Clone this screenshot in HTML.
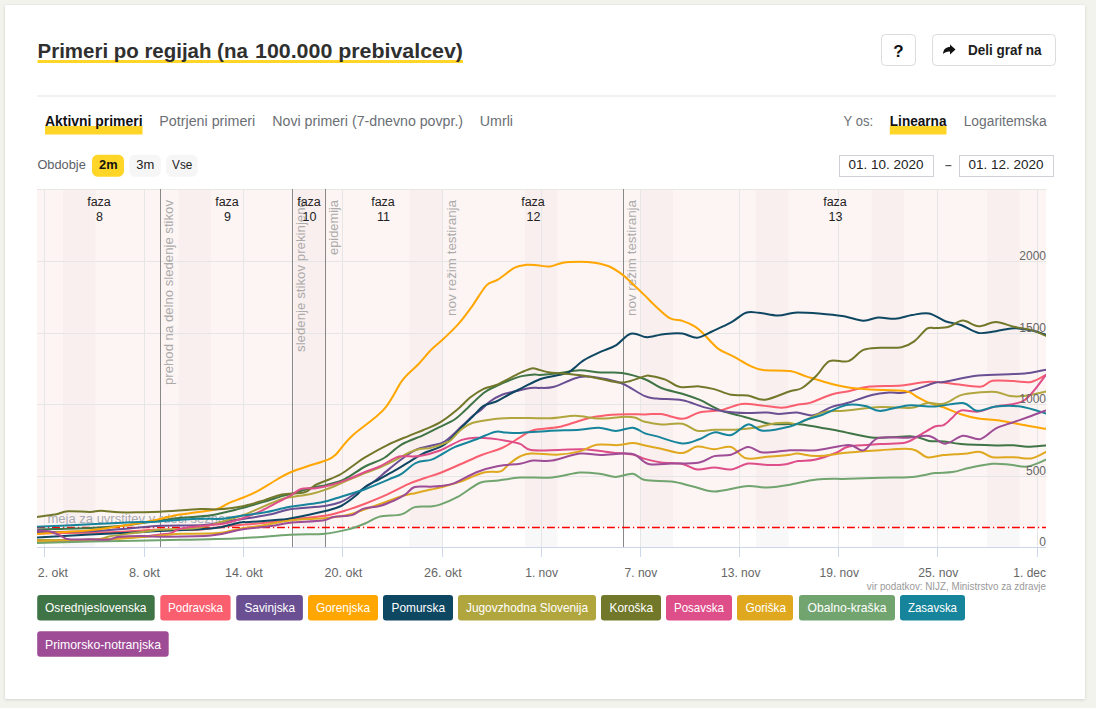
<!DOCTYPE html>
<html><head><meta charset="utf-8"><title>Primeri po regijah</title>
<style>
html,body{margin:0;padding:0;width:1096px;height:708px;overflow:hidden;background:#f3f3ee;font-family:"Liberation Sans", sans-serif;}
.card{position:absolute;left:5px;top:5px;width:1080px;height:694px;background:#fff;box-shadow:0 1px 3px rgba(0,0,0,0.12),0 0 1px rgba(0,0,0,0.08);}
svg{position:absolute;left:0;top:0;}
text{font-family:"Liberation Sans", sans-serif;}
</style></head><body>
<div class="card"></div>
<svg width="1096" height="708" viewBox="0 0 1096 708">
<rect x="37.5" y="60" width="425.5" height="3" fill="#ffd527"/>
<text x="37.6" y="57.5" font-size="20" font-weight="bold" fill="#2f2f2f" textLength="210.2" lengthAdjust="spacingAndGlyphs">Primeri po regijah (na</text>
<text x="255" y="57.5" font-size="20" font-weight="bold" fill="#2f2f2f" textLength="208" lengthAdjust="spacingAndGlyphs">100.000 prebivalcev)</text>
<rect x="881.5" y="34.5" width="34" height="31" rx="4" fill="#fff" stroke="#dcdcdc" stroke-width="1"/>
<text x="898.5" y="57" font-size="17" font-weight="bold" fill="#111" text-anchor="middle">?</text>
<rect x="932.5" y="34.5" width="123" height="31" rx="4" fill="#fff" stroke="#dcdcdc" stroke-width="1"/>
<path d="M943,54 C943.5,49 946,47 950,47 L950,44.5 L955.5,49.5 L950,54.5 L950,51.5 C947,51.3 944.8,52.2 943,54 Z" fill="#111"/>
<text x="968" y="55" font-size="14.5" font-weight="bold" fill="#1d1d1d" textLength="73.5" lengthAdjust="spacingAndGlyphs">Deli graf na</text>
<rect x="37" y="95.5" width="1019" height="1" fill="#e1e4e8"/>
<rect x="45" y="126" width="97.5" height="8.5" fill="#ffd527"/>
<text x="45" y="126" font-size="14" font-weight="bold" fill="#111" textLength="97.5" lengthAdjust="spacingAndGlyphs">Aktivni primeri</text>
<text x="159.3" y="126" font-size="14" fill="#6b6f75" textLength="96" lengthAdjust="spacingAndGlyphs">Potrjeni primeri</text>
<text x="272.3" y="126" font-size="14" fill="#6b6f75" textLength="190.8" lengthAdjust="spacingAndGlyphs">Novi primeri (7-dnevno povpr.)</text>
<text x="479.7" y="126" font-size="14" fill="#6b6f75" textLength="33.3" lengthAdjust="spacingAndGlyphs">Umrli</text>
<text x="843.6" y="126" font-size="14" fill="#6b6f75" textLength="29.4" lengthAdjust="spacingAndGlyphs">Y os:</text>
<rect x="889.8" y="126" width="56.7" height="8.5" fill="#ffd527"/>
<text x="889.8" y="126" font-size="14" font-weight="bold" fill="#111" textLength="56.7" lengthAdjust="spacingAndGlyphs">Linearna</text>
<text x="963.7" y="126" font-size="14" fill="#6b6f75" textLength="82.9" lengthAdjust="spacingAndGlyphs">Logaritemska</text>
<text x="37.4" y="169.3" font-size="13" fill="#5c6066" textLength="48.4" lengthAdjust="spacingAndGlyphs">Obdobje</text>
<rect x="92" y="154.8" width="32" height="21.9" rx="5.5" fill="#ffd527"/>
<text x="99.1" y="168.8" font-size="12.5" font-weight="bold" fill="#111" textLength="18.5" lengthAdjust="spacingAndGlyphs">2m</text>
<rect x="129.3" y="154.8" width="31.5" height="21.9" rx="5.5" fill="#f6f6f6"/>
<text x="136.2" y="168.8" font-size="12.5" fill="#222" textLength="18" lengthAdjust="spacingAndGlyphs">3m</text>
<rect x="166.1" y="154.8" width="31.5" height="21.9" rx="5.5" fill="#f6f6f6"/>
<text x="172.1" y="168.8" font-size="12.5" fill="#222" textLength="20.2" lengthAdjust="spacingAndGlyphs">Vse</text>
<rect x="839.5" y="155.5" width="94" height="21" fill="#fff" stroke="#cfd2d6" stroke-width="1"/>
<text x="848.5" y="169" font-size="12.5" fill="#222" textLength="74.9" lengthAdjust="spacingAndGlyphs">01. 10. 2020</text>
<rect x="959.5" y="155.5" width="94" height="21" fill="#fff" stroke="#cfd2d6" stroke-width="1"/>
<text x="968.5" y="169" font-size="12.5" fill="#222" textLength="74.9" lengthAdjust="spacingAndGlyphs">01. 12. 2020</text>
<rect x="945.4" y="165" width="6" height="1.2" fill="#555"/>
<rect x="37" y="189" width="1009" height="338" fill="#fdf5f4"/>
<rect x="62.9" y="189" width="32.4" height="338.0" fill="#f9efee"/>
<rect x="62.9" y="527" width="32.4" height="20.0" fill="#f8f8f8"/>
<rect x="178.4" y="189" width="32.4" height="338.0" fill="#f9efee"/>
<rect x="178.4" y="527" width="32.4" height="20.0" fill="#f8f8f8"/>
<rect x="294.0" y="189" width="32.4" height="338.0" fill="#f9efee"/>
<rect x="294.0" y="527" width="32.4" height="20.0" fill="#f8f8f8"/>
<rect x="409.5" y="189" width="32.4" height="338.0" fill="#f9efee"/>
<rect x="409.5" y="527" width="32.4" height="20.0" fill="#f8f8f8"/>
<rect x="525.1" y="189" width="32.4" height="338.0" fill="#f9efee"/>
<rect x="525.1" y="527" width="32.4" height="20.0" fill="#f8f8f8"/>
<rect x="640.6" y="189" width="32.4" height="338.0" fill="#f9efee"/>
<rect x="640.6" y="527" width="32.4" height="20.0" fill="#f8f8f8"/>
<rect x="756.1" y="189" width="32.4" height="338.0" fill="#f9efee"/>
<rect x="756.1" y="527" width="32.4" height="20.0" fill="#f8f8f8"/>
<rect x="871.7" y="189" width="32.4" height="338.0" fill="#f9efee"/>
<rect x="871.7" y="527" width="32.4" height="20.0" fill="#f8f8f8"/>
<rect x="987.2" y="189" width="32.4" height="338.0" fill="#f9efee"/>
<rect x="987.2" y="527" width="32.4" height="20.0" fill="#f8f8f8"/>
<rect x="37" y="189" width="1009" height="1" fill="#e6e6e6"/>
<rect x="37" y="261" width="1009" height="1" fill="#e6e6e6"/>
<rect x="37" y="333" width="1009" height="1" fill="#e6e6e6"/>
<rect x="37" y="404" width="1009" height="1" fill="#e6e6e6"/>
<rect x="37" y="476" width="1009" height="1" fill="#e6e6e6"/>
<rect x="44" y="189" width="1" height="358" fill="#e6e6e6"/>
<rect x="44" y="547" width="1" height="10" fill="#ccd6eb"/>
<rect x="144" y="189" width="1" height="358" fill="#e6e6e6"/>
<rect x="144" y="547" width="1" height="10" fill="#ccd6eb"/>
<rect x="243" y="189" width="1" height="358" fill="#e6e6e6"/>
<rect x="243" y="547" width="1" height="10" fill="#ccd6eb"/>
<rect x="342" y="189" width="1" height="358" fill="#e6e6e6"/>
<rect x="342" y="547" width="1" height="10" fill="#ccd6eb"/>
<rect x="442" y="189" width="1" height="358" fill="#e6e6e6"/>
<rect x="442" y="547" width="1" height="10" fill="#ccd6eb"/>
<rect x="541" y="189" width="1" height="358" fill="#e6e6e6"/>
<rect x="541" y="547" width="1" height="10" fill="#ccd6eb"/>
<rect x="640" y="189" width="1" height="358" fill="#e6e6e6"/>
<rect x="640" y="547" width="1" height="10" fill="#ccd6eb"/>
<rect x="739" y="189" width="1" height="358" fill="#e6e6e6"/>
<rect x="739" y="547" width="1" height="10" fill="#ccd6eb"/>
<rect x="838" y="189" width="1" height="358" fill="#e6e6e6"/>
<rect x="838" y="547" width="1" height="10" fill="#ccd6eb"/>
<rect x="937" y="189" width="1" height="358" fill="#e6e6e6"/>
<rect x="937" y="547" width="1" height="10" fill="#ccd6eb"/>
<rect x="1037" y="189" width="1" height="358" fill="#e6e6e6"/>
<rect x="1037" y="547" width="1" height="10" fill="#ccd6eb"/>
<rect x="37" y="547" width="1009" height="1" fill="#ccd6eb"/>
<rect x="160" y="189" width="1" height="358" fill="#888"/>
<rect x="292" y="189" width="1" height="358" fill="#888"/>
<rect x="325" y="189" width="1" height="358" fill="#888"/>
<rect x="623" y="189" width="1" height="358" fill="#888"/>
<text x="47.5" y="523" font-size="13" fill="#a8abb3">meja za uvrstitev v rdeči seznam</text>
<text transform="translate(173.2,200) rotate(-90)" font-size="12" fill="#ababab" text-anchor="end" textLength="185" lengthAdjust="spacingAndGlyphs">prehod na delno sledenje stikov</text>
<text transform="translate(305,200) rotate(-90)" font-size="12" fill="#ababab" text-anchor="end" textLength="152" lengthAdjust="spacingAndGlyphs">sledenje stikov prekinjeno</text>
<text transform="translate(338,200) rotate(-90)" font-size="12" fill="#ababab" text-anchor="end" textLength="55" lengthAdjust="spacingAndGlyphs">epidemija</text>
<text transform="translate(456,200) rotate(-90)" font-size="12" fill="#ababab" text-anchor="end" textLength="116" lengthAdjust="spacingAndGlyphs">nov režim testiranja</text>
<text transform="translate(636,200) rotate(-90)" font-size="12" fill="#ababab" text-anchor="end" textLength="116" lengthAdjust="spacingAndGlyphs">nov režim testiranja</text>
<text x="99" y="206" font-size="12.5" fill="#222" text-anchor="middle">faza</text>
<text x="99.5" y="220.8" font-size="12.5" fill="#222" text-anchor="middle">8</text>
<text x="227" y="206" font-size="12.5" fill="#222" text-anchor="middle">faza</text>
<text x="227.5" y="220.8" font-size="12.5" fill="#222" text-anchor="middle">9</text>
<text x="309" y="206" font-size="12.5" fill="#222" text-anchor="middle">faza</text>
<text x="309.5" y="220.8" font-size="12.5" fill="#222" text-anchor="middle">10</text>
<text x="383" y="206" font-size="12.5" fill="#222" text-anchor="middle">faza</text>
<text x="383.5" y="220.8" font-size="12.5" fill="#222" text-anchor="middle">11</text>
<text x="533" y="206" font-size="12.5" fill="#222" text-anchor="middle">faza</text>
<text x="533.5" y="220.8" font-size="12.5" fill="#222" text-anchor="middle">12</text>
<text x="835" y="206" font-size="12.5" fill="#222" text-anchor="middle">faza</text>
<text x="835.5" y="220.8" font-size="12.5" fill="#222" text-anchor="middle">13</text>
<line x1="37" y1="527.5" x2="1046" y2="527.5" stroke="#ff0000" stroke-width="1.4" stroke-dasharray="7.9,3,1.3,2.8"/>
<defs><clipPath id="pc"><rect x="37" y="189" width="1009" height="358"/></clipPath></defs>
<g fill="none" stroke-width="2" stroke-linejoin="round" stroke-linecap="round" clip-path="url(#pc)">
<path d="M37.0,529.5 C45.8,529.2 76.2,528.6 90.0,528.0 C103.8,527.4 108.3,527.2 120.0,526.0 C131.7,524.8 149.7,521.9 160.0,520.5 C170.3,519.1 173.4,518.6 181.9,517.7 C190.4,516.8 201.4,516.7 211.1,515.2 C220.8,513.7 231.2,510.8 240.0,508.6 C248.8,506.4 256.8,504.0 263.8,501.9 C270.8,499.8 277.6,497.4 282.0,496.1 C286.4,494.9 285.0,495.8 290.0,494.4 C295.0,493.0 305.8,489.4 311.9,487.8 C318.0,486.2 321.0,486.3 326.5,484.9 C332.0,483.4 338.3,482.2 344.7,479.1 C351.1,476.0 358.6,469.9 365.0,466.5 C371.4,463.1 377.1,462.1 383.2,458.5 C389.3,454.9 394.8,448.5 401.5,444.6 C408.2,440.7 417.0,438.1 423.4,435.1 C429.8,432.1 434.8,429.4 440.0,426.8 C445.2,424.2 450.4,422.3 454.6,419.5 C458.9,416.7 460.7,414.4 465.5,410.0 C470.3,405.6 478.5,397.0 483.6,393.0 C488.7,389.0 492.1,388.1 496.3,386.0 C500.5,383.9 504.8,382.1 509.0,380.5 C513.2,378.9 517.5,377.1 521.7,376.1 C525.9,375.1 531.4,374.6 534.4,374.4 C537.4,374.2 536.0,375.2 540.0,375.0 C544.0,374.8 552.0,374.1 558.6,373.3 C565.2,372.5 572.7,370.4 579.7,370.3 C586.8,370.2 593.8,372.1 600.9,372.5 C608.0,372.9 614.8,371.8 622.1,372.9 C629.5,374.0 638.5,376.7 645.0,379.2 C651.5,381.7 655.0,385.6 661.2,388.0 C667.4,390.4 676.0,391.9 682.4,393.8 C688.8,395.8 692.9,396.9 699.3,399.7 C705.6,402.4 713.8,407.6 720.5,410.3 C727.2,413.0 733.2,413.8 739.6,415.6 C746.0,417.4 753.3,419.5 758.6,420.9 C763.9,422.3 766.2,423.6 771.4,424.1 C776.6,424.6 784.9,424.1 790.0,424.1 C795.1,424.2 794.0,423.3 802.0,424.4 C810.0,425.5 826.0,428.5 838.0,430.7 C850.0,432.9 861.6,436.8 874.0,437.7 C886.4,438.6 902.9,435.9 912.1,436.4 C921.3,436.9 923.9,440.1 929.1,440.9 C934.3,441.7 938.2,440.9 943.5,441.4 C948.8,441.9 952.2,443.3 961.0,444.0 C969.8,444.7 987.2,445.2 996.0,445.4 C1004.8,445.6 1008.3,445.1 1013.6,445.3 C1018.9,445.5 1022.2,446.7 1027.6,446.7 C1033.0,446.7 1042.9,445.6 1046.0,445.4" stroke="#3f7446"/>
<path d="M37.0,533.5 C45.8,533.4 73.9,533.1 90.0,532.7 C106.1,532.3 122.1,531.5 133.8,530.9 C145.5,530.3 149.6,529.6 160.0,529.4 C170.4,529.2 186.5,530.2 196.5,529.8 C206.5,529.4 212.8,527.8 220.0,527.0 C227.2,526.2 230.3,525.9 240.0,525.0 C249.7,524.1 270.1,522.5 278.4,521.6 C286.7,520.7 282.0,520.5 290.0,519.5 C298.0,518.5 316.8,517.0 326.5,515.4 C336.2,513.8 342.0,511.5 348.4,509.6 C354.8,507.7 358.6,506.3 365.0,503.8 C371.4,501.3 379.6,498.0 386.9,494.7 C394.2,491.4 402.4,486.6 408.8,483.8 C415.2,481.0 419.8,479.8 425.0,478.0 C430.2,476.2 434.0,475.3 440.0,473.0 C446.0,470.7 454.1,467.0 461.0,464.0 C467.9,461.0 474.8,457.7 481.6,455.0 C488.4,452.3 495.6,450.9 502.0,448.0 C508.4,445.1 514.8,440.3 520.0,437.4 C525.2,434.4 526.7,432.0 533.1,430.3 C539.5,428.6 550.8,428.7 558.6,427.1 C566.4,425.5 573.4,422.5 579.7,420.7 C586.1,418.9 590.3,417.6 596.7,416.5 C603.1,415.4 609.9,414.8 617.9,414.4 C625.9,414.0 637.8,414.4 645.0,414.4 C652.2,414.3 655.0,413.4 661.2,414.1 C667.4,414.8 676.0,419.1 682.4,418.8 C688.8,418.5 692.9,413.8 699.3,412.4 C705.6,411.0 713.4,411.7 720.5,410.3 C727.6,408.9 735.1,404.8 741.7,403.9 C748.3,403.0 753.4,404.6 760.0,405.2 C766.6,405.8 775.2,407.8 781.6,407.7 C788.0,407.6 793.2,405.4 798.1,404.5 C803.0,403.6 805.2,404.3 810.8,402.6 C816.4,400.9 825.3,396.4 831.6,394.5 C837.9,392.6 842.2,392.5 848.6,391.2 C855.0,389.9 860.9,387.6 869.7,386.6 C878.5,385.7 891.6,386.3 901.5,385.5 C911.4,384.7 920.6,382.0 929.1,381.7 C937.6,381.4 943.8,382.9 952.3,383.7 C960.8,384.5 973.6,387.2 980.3,386.7 C987.0,386.2 987.0,381.6 992.5,380.7 C998.0,379.8 1007.2,380.9 1013.6,381.1 C1020.0,381.3 1025.7,382.9 1031.1,381.9 C1036.5,380.9 1043.5,376.1 1046.0,374.9" stroke="#f95f6f"/>
<path d="M37.0,532.0 C45.8,531.9 73.9,532.0 90.0,531.3 C106.1,530.6 122.1,528.9 133.8,528.0 C145.5,527.1 148.3,526.3 160.0,525.8 C171.7,525.3 192.9,525.7 203.8,525.0 C214.8,524.3 218.1,522.6 225.7,521.4 C233.3,520.2 241.6,519.2 249.2,518.0 C256.8,516.8 264.3,515.8 271.1,514.3 C277.9,512.8 281.0,510.6 290.0,509.2 C299.0,507.8 316.5,507.2 325.0,506.0 C333.5,504.8 336.6,503.6 341.1,501.9 C345.6,500.2 348.0,498.1 352.0,495.7 C356.0,493.3 361.0,490.1 365.0,487.5 C369.0,484.9 372.4,482.8 376.0,480.0 C379.6,477.2 382.6,474.4 386.9,470.9 C391.1,467.4 396.6,462.7 401.5,459.2 C406.4,455.7 411.2,451.9 416.1,449.7 C421.0,447.4 425.9,447.1 430.7,445.7 C435.5,444.3 439.8,444.6 445.0,441.3 C450.2,438.0 457.3,430.4 461.9,426.1 C466.5,421.9 469.6,418.5 472.8,415.8 C476.0,413.1 478.0,412.4 480.9,410.0 C483.8,407.6 486.3,404.1 489.9,401.5 C493.5,398.9 498.4,396.2 502.6,394.5 C506.8,392.8 510.6,392.4 515.3,391.3 C520.0,390.2 526.5,388.5 530.6,387.9 C534.7,387.3 536.0,388.1 540.0,387.9 C544.0,387.7 547.7,388.5 554.3,386.7 C560.9,384.9 571.9,378.5 579.7,377.1 C587.5,375.7 593.8,377.1 600.9,378.2 C608.0,379.3 614.8,380.5 622.1,383.5 C629.5,386.5 639.2,393.7 645.0,396.2 C650.8,398.7 650.8,397.9 657.0,398.6 C663.2,399.3 674.6,398.9 682.4,400.3 C690.2,401.7 696.5,405.2 703.6,407.1 C710.7,409.0 717.7,410.4 724.7,411.4 C731.8,412.4 738.8,412.8 745.9,413.0 C753.0,413.2 761.6,412.2 767.1,412.4 C772.6,412.6 774.0,414.1 779.0,414.1 C784.0,414.1 791.2,412.3 796.9,412.5 C802.6,412.7 807.7,416.2 813.4,415.3 C819.1,414.4 825.7,409.1 831.2,407.1 C836.7,405.1 839.6,405.3 846.4,403.3 C853.2,401.3 864.6,396.8 871.9,395.0 C879.2,393.2 884.4,392.9 890.0,392.5 C895.6,392.1 898.3,393.9 905.8,392.3 C913.3,390.7 928.7,384.5 935.0,382.8 C941.3,381.1 936.2,383.2 943.5,382.0 C950.8,380.8 966.8,376.8 978.5,375.5 C990.2,374.2 1004.8,374.6 1013.6,374.1 C1022.4,373.6 1025.7,373.4 1031.1,372.7 C1036.5,372.0 1043.5,370.2 1046.0,369.7" stroke="#6a4f93"/>
<path d="M37.0,533.9 C40.2,533.7 47.2,533.1 56.0,532.5 C64.8,531.9 77.0,531.6 90.0,530.2 C103.0,528.8 122.1,525.9 133.8,524.0 C145.5,522.1 152.6,520.5 160.0,519.0 C167.4,517.5 172.1,515.9 178.2,514.8 C184.3,513.7 190.1,513.3 196.5,512.3 C202.9,511.3 211.4,510.6 216.9,509.0 C222.4,507.4 224.9,504.7 229.3,502.8 C233.7,500.9 238.9,499.4 243.4,497.5 C247.9,495.6 251.0,494.6 256.5,491.7 C262.0,488.8 270.6,483.2 276.2,480.0 C281.8,476.8 284.7,474.8 290.0,472.5 C295.3,470.2 302.4,467.9 308.2,466.0 C314.0,464.1 320.5,462.6 325.0,460.8 C329.5,459.0 330.9,459.1 335.3,455.0 C339.7,450.9 343.4,444.0 351.5,436.4 C359.6,428.8 375.2,419.0 383.7,409.6 C392.2,400.2 396.7,387.7 402.5,380.1 C408.3,372.5 414.0,368.9 418.6,364.0 C423.2,359.1 425.8,355.3 430.0,351.0 C434.2,346.7 439.4,342.8 444.1,338.3 C448.8,333.8 453.5,329.6 458.2,324.2 C462.9,318.8 467.7,312.3 472.4,305.8 C477.1,299.3 482.3,289.8 486.5,285.4 C490.7,281.0 493.1,282.6 497.8,279.7 C502.5,276.8 509.9,270.2 514.7,267.7 C519.5,265.2 523.0,265.2 526.8,264.8 C530.6,264.4 533.5,265.0 537.4,265.3 C541.3,265.6 545.9,266.9 550.1,266.5 C554.3,266.1 557.9,263.5 562.8,262.7 C567.7,261.9 574.4,261.7 579.7,261.7 C585.0,261.7 589.7,261.9 594.6,262.7 C599.5,263.5 604.8,264.6 609.4,266.5 C614.0,268.4 618.2,271.5 622.1,274.4 C626.0,277.3 628.9,280.4 632.7,283.9 C636.5,287.4 641.3,292.0 645.0,295.6 C648.7,299.2 650.7,301.6 654.8,305.4 C658.9,309.1 665.1,315.5 669.7,318.1 C674.3,320.7 678.2,319.5 682.4,320.9 C686.6,322.3 691.6,324.4 695.1,326.6 C698.6,328.8 699.7,330.3 703.6,334.0 C707.5,337.7 713.5,345.2 718.4,348.9 C723.3,352.6 727.9,353.5 733.2,356.3 C738.5,359.1 745.2,363.5 750.2,365.8 C755.2,368.1 756.3,369.1 762.9,370.0 C769.5,370.9 782.8,370.0 790.0,371.1 C797.2,372.2 800.0,374.4 806.2,376.4 C812.4,378.3 820.3,380.9 827.4,382.8 C834.5,384.7 841.5,386.5 848.6,387.6 C855.7,388.7 860.2,388.9 869.7,389.5 C879.2,390.1 898.0,390.0 905.8,391.2 C913.6,392.4 912.5,394.6 916.4,396.5 C920.3,398.4 924.6,401.1 929.1,402.9 C933.6,404.7 938.2,405.4 943.5,407.3 C948.8,409.2 955.2,412.4 961.0,414.3 C966.8,416.2 972.1,417.6 978.5,418.6 C984.9,419.6 992.3,419.4 999.6,420.4 C1006.9,421.4 1014.6,423.4 1022.3,424.8 C1030.0,426.2 1042.0,428.1 1046.0,428.8" stroke="#ffa600"/>
<path d="M37.0,537.4 C45.8,536.9 73.9,535.4 90.0,534.6 C106.1,533.8 122.1,533.0 133.8,532.4 C145.5,531.8 149.6,531.4 160.0,530.9 C170.4,530.4 186.8,529.9 196.5,529.4 C206.2,528.9 211.2,528.8 218.4,527.6 C225.7,526.5 234.9,523.4 240.0,522.5 C245.1,521.6 242.8,522.5 249.2,522.0 C255.6,521.5 271.6,520.4 278.4,519.8 C285.2,519.2 282.0,519.9 290.0,518.4 C298.0,516.9 318.0,512.8 326.5,510.7 C335.0,508.6 336.2,508.5 341.1,506.0 C346.0,503.5 351.7,499.0 355.7,495.8 C359.7,492.6 361.0,489.8 365.0,487.0 C369.0,484.2 374.7,481.7 379.6,479.0 C384.5,476.3 389.3,473.7 394.2,470.9 C399.1,468.1 403.9,465.0 408.8,462.1 C413.7,459.2 417.4,456.4 423.4,453.4 C429.4,450.4 438.6,448.6 445.0,444.2 C451.4,439.8 457.3,431.6 461.9,427.0 C466.5,422.4 469.2,420.0 472.8,416.5 C476.4,413.0 479.7,408.4 483.6,405.9 C487.5,403.4 492.1,403.4 496.3,401.5 C500.5,399.6 504.8,396.7 509.0,394.5 C513.2,392.3 516.5,390.7 521.7,388.1 C526.9,385.6 533.9,381.4 540.0,379.2 C546.1,377.0 553.7,376.2 558.6,375.0 C563.5,373.8 565.0,374.3 569.2,371.8 C573.4,369.3 578.7,363.6 584.0,360.2 C589.3,356.8 595.6,354.2 600.9,351.7 C606.2,349.2 610.8,348.3 615.8,345.3 C620.8,342.3 625.7,335.1 630.6,333.7 C635.5,332.3 641.7,336.4 645.0,336.9 C648.3,337.4 647.2,337.3 650.6,336.8 C654.0,336.3 660.1,334.5 665.4,334.0 C670.7,333.5 677.1,333.0 682.4,333.6 C687.7,334.2 692.3,338.2 697.2,337.8 C702.1,337.4 706.4,334.1 712.0,331.5 C717.6,328.9 725.5,325.5 731.1,322.4 C736.8,319.3 741.3,314.4 745.9,312.8 C750.5,311.2 753.3,312.3 758.6,312.8 C763.9,313.3 772.5,315.5 777.7,315.6 C782.9,315.7 786.7,314.0 790.0,313.5 C793.3,313.0 792.9,312.4 797.7,312.4 C802.5,312.4 811.5,312.9 818.9,313.5 C826.3,314.1 834.8,314.8 842.2,316.0 C849.6,317.2 857.4,320.4 863.4,320.7 C869.4,320.9 872.9,317.8 878.2,317.5 C883.5,317.2 889.6,319.2 895.2,318.8 C900.9,318.4 906.5,315.9 912.1,315.0 C917.8,314.1 923.6,312.5 929.1,313.5 C934.6,314.5 940.0,319.3 945.3,321.2 C950.6,323.1 955.5,323.1 961.0,325.0 C966.5,326.9 972.7,331.9 978.5,332.9 C984.3,333.9 990.1,332.0 996.0,331.2 C1001.9,330.4 1007.8,328.3 1013.6,328.2 C1019.5,328.1 1025.7,329.2 1031.1,330.3 C1036.5,331.4 1043.5,334.0 1046.0,334.7" stroke="#0e4762"/>
<path d="M37.0,540.0 C46.7,539.9 83.0,540.1 95.0,539.5 C107.0,538.9 103.2,537.5 109.0,536.5 C114.8,535.5 123.2,534.4 130.0,533.5 C136.8,532.6 145.0,531.6 150.0,531.0 C155.0,530.4 152.2,530.3 160.0,529.8 C167.8,529.3 186.5,529.2 196.5,528.0 C206.5,526.8 212.2,524.5 220.0,522.3 C227.8,520.1 236.1,517.7 243.4,515.0 C250.7,512.3 257.4,509.0 263.8,506.3 C270.2,503.6 277.6,500.5 282.0,499.0 C286.4,497.5 285.0,498.2 290.0,497.3 C295.0,496.4 305.8,495.0 311.9,493.7 C318.0,492.4 321.0,491.3 326.5,489.3 C332.0,487.3 338.3,484.3 344.7,481.6 C351.1,478.9 359.2,475.4 365.0,473.1 C370.8,470.8 374.7,469.7 379.6,467.6 C384.5,465.5 389.3,463.2 394.2,460.7 C399.1,458.2 404.6,454.6 408.8,452.6 C413.1,450.7 416.1,449.8 419.7,449.0 C423.3,448.2 426.5,448.9 430.7,447.9 C434.9,446.9 441.6,444.4 445.0,443.1 C448.4,441.8 448.2,442.2 451.0,439.9 C453.8,437.5 458.3,431.9 461.9,429.0 C465.5,426.1 467.9,424.4 472.8,422.8 C477.7,421.2 485.6,420.3 491.1,419.5 C496.6,418.7 500.9,418.5 505.7,418.2 C510.5,417.9 512.6,417.9 520.0,417.9 C527.4,417.9 540.9,418.5 550.1,418.2 C559.4,417.9 567.4,415.7 575.5,415.8 C583.6,415.9 591.0,418.4 598.8,418.6 C606.6,418.8 616.1,417.1 622.1,416.9 C628.1,416.7 631.0,416.7 634.8,417.5 C638.6,418.3 640.6,420.7 645.0,421.8 C649.4,422.9 655.0,424.1 661.2,424.4 C667.4,424.7 676.4,422.6 682.4,423.7 C688.4,424.8 691.9,429.7 697.2,430.7 C702.5,431.7 707.9,429.9 714.2,429.7 C720.6,429.5 728.2,430.1 735.3,429.7 C742.3,429.3 749.8,428.6 756.5,427.5 C763.2,426.4 770.0,424.1 775.6,423.3 C781.2,422.5 786.3,422.8 790.0,422.9 C793.7,422.9 792.2,425.4 797.7,423.6 C803.2,421.9 815.3,414.5 823.1,412.4 C830.9,410.2 834.8,411.6 844.3,410.7 C853.8,409.8 869.0,407.6 880.3,407.1 C891.6,406.6 904.3,408.5 912.1,407.8 C919.9,407.1 921.8,403.6 927.0,402.9 C932.2,402.2 937.8,405.1 943.5,403.8 C949.2,402.5 955.2,397.0 961.0,395.1 C966.8,393.2 972.7,393.0 978.5,392.5 C984.3,392.0 990.7,391.3 996.0,391.9 C1001.3,392.5 1005.4,395.3 1010.1,396.0 C1014.8,396.7 1018.1,396.7 1024.1,396.0 C1030.1,395.3 1042.3,392.3 1046.0,391.6" stroke="#b1a63e"/>
<path d="M37.0,516.9 C40.0,516.5 49.8,515.4 55.0,514.5 C60.2,513.6 62.2,511.7 68.0,511.3 C73.8,510.9 84.5,512.0 90.0,511.9 C95.5,511.8 96.2,510.6 101.0,510.7 C105.8,510.8 112.5,512.0 119.0,512.3 C125.5,512.6 133.2,512.4 140.0,512.3 C146.8,512.2 150.0,512.3 160.0,511.8 C170.0,511.3 190.4,509.5 200.1,509.1 C209.8,508.7 211.8,509.7 218.4,509.3 C225.1,508.9 232.4,508.3 240.0,506.8 C247.6,505.3 256.8,502.4 263.8,500.4 C270.8,498.3 275.2,495.9 282.0,494.5 C288.8,493.1 299.0,493.8 304.6,492.2 C310.2,490.6 311.9,486.8 315.5,484.9 C319.1,482.9 322.2,482.3 326.5,480.5 C330.8,478.7 336.2,476.8 341.1,474.0 C346.0,471.2 351.7,466.6 355.7,463.8 C359.7,461.0 359.8,460.5 365.0,457.4 C370.2,454.3 379.6,448.9 386.9,445.3 C394.2,441.7 402.7,438.4 408.8,435.8 C414.9,433.2 418.2,432.2 423.4,430.0 C428.6,427.8 434.4,425.7 440.0,422.4 C445.6,419.1 451.7,414.2 456.8,410.0 C461.9,405.8 466.3,400.5 470.8,397.0 C475.3,393.5 479.4,390.8 483.6,388.8 C487.9,386.8 492.1,386.7 496.3,385.0 C500.5,383.3 504.8,380.7 509.0,378.6 C513.2,376.5 517.9,373.9 521.7,372.2 C525.5,370.5 528.9,368.8 531.9,368.4 C534.9,368.0 537.0,369.4 540.0,370.1 C543.0,370.8 545.2,371.9 550.1,372.5 C555.0,373.1 562.5,373.2 569.2,373.9 C575.9,374.6 582.2,375.3 590.3,376.7 C598.4,378.1 611.2,381.7 617.9,382.4 C624.6,383.1 626.1,381.9 630.6,380.9 C635.1,379.8 641.7,376.9 645.0,376.1 C648.3,375.3 647.2,375.4 650.6,376.0 C654.0,376.6 660.5,377.8 665.4,379.6 C670.3,381.4 674.6,385.9 680.3,387.0 C685.9,388.1 693.6,386.0 699.3,386.4 C704.9,386.8 708.9,387.7 714.2,389.1 C719.5,390.5 725.5,393.7 731.1,394.8 C736.7,395.9 742.4,394.7 748.0,395.5 C753.6,396.3 758.0,400.4 765.0,399.7 C772.0,399.0 783.8,393.1 790.0,391.2 C796.2,389.2 797.5,390.6 802.0,388.0 C806.5,385.4 812.2,379.8 816.8,375.3 C821.4,370.8 824.2,363.5 829.5,361.1 C834.8,358.7 843.0,363.0 848.6,361.1 C854.2,359.2 858.1,352.1 863.4,349.9 C868.7,347.7 873.9,348.2 880.3,347.8 C886.6,347.4 895.9,348.3 901.5,347.2 C907.1,346.1 910.0,344.5 914.2,341.4 C918.5,338.3 923.5,330.9 927.0,328.7 C930.5,326.5 931.4,328.4 935.0,328.1 C938.6,327.8 944.2,328.1 948.8,326.8 C953.4,325.6 957.8,320.7 962.8,320.6 C967.8,320.5 973.0,326.1 978.5,326.3 C984.0,326.5 990.1,321.9 996.0,322.0 C1001.9,322.1 1007.8,325.5 1013.6,326.8 C1019.5,328.1 1025.7,328.4 1031.1,329.9 C1036.5,331.4 1043.5,334.9 1046.0,335.9" stroke="#71782a"/>
<path d="M37.0,541.3 C45.8,541.1 72.8,540.8 90.0,540.0 C107.2,539.2 128.3,537.5 140.0,536.6 C151.7,535.7 154.8,535.1 160.0,534.5 C165.2,533.9 167.6,534.1 171.0,533.1 C174.4,532.1 174.9,529.9 180.4,528.7 C185.9,527.5 196.2,526.7 203.8,525.8 C211.4,524.9 219.1,524.5 225.7,523.2 C232.3,521.9 237.7,520.0 243.4,518.0 C249.1,516.0 254.3,514.1 260.1,511.4 C265.9,508.7 273.4,504.5 278.4,501.9 C283.4,499.3 286.2,498.0 290.0,495.9 C293.8,493.8 296.8,490.3 301.0,489.0 C305.2,487.7 310.6,488.8 315.5,488.2 C320.4,487.6 324.6,486.8 330.1,485.3 C335.6,483.8 342.6,481.3 348.4,479.1 C354.2,476.9 359.8,474.1 365.0,472.0 C370.2,469.9 374.4,468.9 379.6,466.5 C384.8,464.1 392.1,459.1 396.4,457.4 C400.6,455.7 401.2,456.6 405.1,456.3 C409.0,456.1 413.9,456.9 419.7,455.9 C425.5,454.9 433.0,453.2 440.0,450.5 C447.0,447.8 455.8,442.0 461.9,439.9 C468.0,437.8 471.6,437.9 476.5,437.7 C481.4,437.5 486.2,438.0 491.1,438.5 C496.0,439.0 500.9,439.8 505.7,440.7 C510.5,441.6 515.8,442.3 520.0,443.9 C524.2,445.4 524.6,449.0 531.0,450.0 C537.4,451.0 549.8,450.1 558.6,450.0 C567.4,449.9 575.2,448.9 584.0,449.3 C592.8,449.7 603.4,451.6 611.5,452.5 C619.6,453.4 627.1,453.5 632.7,454.6 C638.3,455.7 640.2,457.6 645.0,458.9 C649.8,460.2 655.0,461.6 661.2,462.5 C667.4,463.4 676.4,462.8 682.4,464.0 C688.4,465.2 691.9,468.9 697.2,469.5 C702.5,470.1 708.6,467.4 714.2,467.4 C719.9,467.4 725.5,470.1 731.1,469.5 C736.7,468.9 742.0,464.4 748.0,463.6 C754.0,462.9 761.1,464.8 767.1,465.0 C773.1,465.2 778.9,465.2 784.1,464.6 C789.3,464.0 793.0,461.9 798.1,461.1 C803.2,460.3 808.2,461.2 814.6,459.8 C821.0,458.4 830.6,455.0 836.3,452.8 C842.0,450.6 841.7,447.8 849.0,446.4 C856.3,444.9 870.8,444.8 880.3,444.1 C889.8,443.4 899.4,443.8 905.8,442.4 C912.2,441.0 913.7,438.6 918.5,436.0 C923.3,433.4 930.6,428.3 934.8,426.5 C939.0,424.7 940.6,426.6 943.5,425.1 C946.4,423.7 949.4,420.2 952.3,417.8 C955.2,415.4 956.6,411.4 961.0,410.4 C965.4,409.4 972.7,412.3 978.5,411.6 C984.3,410.9 988.4,408.2 996.0,406.4 C1003.6,404.5 1015.8,405.8 1024.1,400.5 C1032.4,395.2 1042.3,379.2 1046.0,374.9" stroke="#de4e89"/>
<path d="M37.0,541.2 C45.8,541.0 75.1,540.3 90.0,539.8 C104.9,539.3 114.8,538.9 126.5,538.2 C138.2,537.5 150.8,536.3 160.0,535.6 C169.2,534.9 172.2,534.2 181.9,533.8 C191.6,533.4 208.7,534.0 218.4,533.1 C228.1,532.2 232.4,530.0 240.0,528.7 C247.6,527.4 255.5,526.7 263.8,525.3 C272.1,523.9 279.6,521.7 290.0,520.5 C300.4,519.3 316.8,519.0 326.5,518.0 C336.2,517.0 342.0,516.2 348.4,514.7 C354.8,513.2 359.8,511.1 365.0,509.3 C370.2,507.6 373.5,506.4 379.6,504.2 C385.7,502.0 395.4,498.1 401.5,496.2 C407.6,494.3 411.2,494.0 416.1,492.9 C421.0,491.8 426.7,490.5 430.7,489.6 C434.7,488.7 435.4,488.7 440.0,487.5 C444.6,486.3 450.9,484.9 458.2,482.4 C465.5,479.9 476.7,474.3 483.8,472.5 C490.9,470.7 496.4,472.8 500.6,471.4 C504.9,469.9 506.1,466.3 509.3,463.8 C512.5,461.3 516.4,458.2 520.0,456.5 C523.6,454.8 524.6,453.9 531.0,453.6 C537.4,453.3 550.5,455.0 558.6,454.6 C566.7,454.2 573.4,453.0 579.7,451.4 C586.1,449.8 590.3,445.8 596.7,444.7 C603.1,443.6 611.9,445.4 617.9,445.1 C623.9,444.8 628.2,442.9 632.7,443.0 C637.2,443.1 640.2,444.6 645.0,445.5 C649.8,446.4 655.0,447.4 661.2,448.7 C667.4,449.9 676.4,453.4 682.4,453.0 C688.4,452.6 691.9,447.2 697.2,446.6 C702.5,446.0 708.6,449.1 714.2,449.2 C719.9,449.3 725.8,445.5 731.1,447.0 C736.4,448.5 739.9,456.7 745.9,458.3 C751.9,459.9 759.8,457.4 767.1,456.8 C774.5,456.2 784.9,455.3 790.0,454.7 C795.1,454.1 793.2,453.2 797.7,453.4 C802.2,453.6 808.3,456.2 816.8,456.1 C825.3,456.0 838.0,453.5 848.6,452.5 C859.2,451.5 869.7,450.8 880.3,450.2 C890.9,449.6 904.3,448.0 912.1,449.2 C919.9,450.4 921.8,456.2 927.0,457.2 C932.2,458.2 937.2,455.7 943.5,455.1 C949.8,454.5 958.4,454.2 964.5,453.7 C970.6,453.2 975.6,451.3 980.3,451.9 C985.0,452.5 987.0,456.3 992.5,457.2 C998.0,458.1 1007.2,457.0 1013.6,457.2 C1020.0,457.4 1025.7,459.3 1031.1,458.4 C1036.5,457.5 1043.5,453.0 1046.0,451.9" stroke="#dfa81f"/>
<path d="M37.0,542.9 C45.8,542.7 67.8,542.0 90.0,541.5 C112.2,541.0 145.0,540.5 170.0,540.0 C195.0,539.5 220.0,539.1 240.0,538.2 C260.0,537.3 275.8,535.5 290.0,534.8 C304.2,534.0 315.3,534.6 325.0,533.7 C334.7,532.8 341.7,531.0 348.4,529.3 C355.1,527.6 359.8,525.6 365.0,523.5 C370.2,521.4 373.5,518.1 379.6,516.6 C385.7,515.1 395.7,516.0 401.5,514.4 C407.3,512.8 409.7,508.4 414.6,507.1 C419.5,505.8 426.5,506.8 430.7,506.4 C434.9,506.0 435.4,506.2 440.0,504.6 C444.6,503.0 451.5,500.2 458.2,496.6 C464.9,493.0 473.4,485.4 480.1,482.7 C486.8,480.0 491.8,481.4 498.4,480.5 C505.0,479.6 511.0,478.1 520.0,477.6 C529.0,477.1 542.2,478.3 552.2,477.5 C562.2,476.7 571.6,473.2 579.7,472.6 C587.8,472.0 594.9,473.4 600.9,474.1 C606.9,474.8 610.5,477.0 615.8,476.9 C621.1,476.8 627.8,473.2 632.7,473.7 C637.6,474.2 638.5,478.7 645.0,480.0 C651.5,481.3 663.8,480.5 671.8,481.6 C679.8,482.7 685.9,484.8 693.0,486.4 C700.1,488.0 705.4,491.5 714.2,491.5 C723.0,491.5 737.1,486.9 745.9,486.2 C754.7,485.5 759.8,487.8 767.1,487.5 C774.5,487.2 781.7,486.1 790.0,484.7 C798.3,483.3 807.0,480.4 816.8,479.4 C826.6,478.4 838.0,479.1 848.6,478.8 C859.2,478.5 869.7,478.1 880.3,477.8 C890.9,477.5 903.0,477.7 912.1,476.9 C921.2,476.1 928.3,473.9 935.0,473.1 C941.7,472.3 946.5,473.0 952.3,472.1 C958.1,471.2 963.1,469.1 969.8,467.7 C976.5,466.3 985.8,464.3 992.5,463.8 C999.2,463.3 1004.2,464.2 1010.1,464.7 C1016.0,465.1 1021.6,467.3 1027.6,466.5 C1033.6,465.7 1042.9,460.9 1046.0,459.8" stroke="#71a46f"/>
<path d="M37.0,526.8 C45.8,526.4 75.1,525.0 90.0,524.3 C104.9,523.6 114.8,523.0 126.5,522.5 C138.2,522.0 148.3,522.0 160.0,521.4 C171.7,520.8 186.2,519.2 196.5,518.8 C206.8,518.4 214.8,519.3 222.0,518.8 C229.2,518.3 233.0,516.9 240.0,515.9 C247.0,514.9 256.8,513.7 263.8,512.5 C270.8,511.3 277.6,509.5 282.0,508.5 C286.4,507.5 285.0,507.5 290.0,506.7 C295.0,505.9 305.8,504.7 311.9,503.8 C318.0,502.9 321.6,502.4 326.5,501.2 C331.4,500.0 336.2,498.2 341.1,496.7 C346.0,495.2 351.7,493.4 355.7,492.2 C359.7,490.9 359.6,491.3 365.0,489.2 C370.4,487.1 382.3,482.2 388.4,479.6 C394.5,477.0 396.9,476.6 401.5,473.8 C406.1,471.0 411.2,465.1 416.1,462.8 C421.0,460.5 426.7,461.1 430.7,459.9 C434.7,458.6 436.0,457.4 440.0,455.3 C444.0,453.2 448.5,449.9 454.6,447.2 C460.7,444.5 469.8,441.8 476.5,439.2 C483.2,436.6 489.8,433.0 494.7,431.9 C499.6,430.8 501.5,432.4 505.7,432.6 C509.9,432.8 513.0,433.3 520.0,433.0 C527.0,432.7 538.0,431.4 548.0,430.9 C558.0,430.4 571.2,430.3 579.7,429.8 C588.2,429.3 592.8,427.5 598.8,427.7 C604.8,427.9 610.1,430.9 615.8,430.9 C621.4,430.9 627.8,427.3 632.7,427.7 C637.6,428.1 641.0,431.9 645.0,433.4 C649.0,434.8 650.8,434.7 657.0,436.4 C663.2,438.1 675.4,442.9 682.4,443.4 C689.4,443.9 694.0,441.0 699.3,439.2 C704.6,437.4 708.9,433.1 714.2,432.4 C719.5,431.7 725.5,436.3 731.1,435.0 C736.7,433.7 742.7,425.1 748.0,424.4 C753.3,423.7 755.9,430.3 762.9,430.7 C769.9,431.1 782.8,428.3 790.0,426.5 C797.2,424.7 800.7,421.8 806.2,419.8 C811.7,417.8 816.4,417.0 823.1,414.5 C829.8,412.0 839.3,406.4 846.4,405.0 C853.5,403.6 859.9,405.1 865.5,406.1 C871.1,407.1 873.2,411.0 880.3,410.9 C887.4,410.8 898.8,406.1 907.9,405.4 C917.0,404.7 925.9,406.9 935.0,406.5 C944.1,406.1 955.8,402.3 962.8,403.0 C969.8,403.7 971.3,410.2 976.8,410.8 C982.3,411.4 988.7,407.2 996.0,406.5 C1003.3,405.8 1012.3,405.3 1020.6,406.5 C1028.9,407.7 1041.8,412.3 1046.0,413.5" stroke="#16849b"/>
<path d="M37.0,530.3 C39.2,530.5 46.2,530.6 50.0,531.5 C53.8,532.4 56.9,534.2 60.0,535.5 C63.1,536.8 63.8,538.7 68.8,539.3 C73.8,539.9 83.5,539.2 90.0,539.3 C96.5,539.4 103.1,540.1 108.0,539.7 C112.9,539.3 113.7,537.4 119.2,536.8 C124.7,536.2 134.2,536.0 141.0,536.0 C147.8,536.0 148.3,536.8 160.0,536.7 C171.7,536.6 197.8,536.8 211.1,535.6 C224.4,534.5 230.0,531.4 240.0,529.8 C250.0,528.2 262.8,527.2 271.1,526.0 C279.4,524.8 281.4,523.6 290.0,522.7 C298.6,521.8 315.5,521.5 322.8,520.5 C330.1,519.5 328.9,517.8 333.8,516.9 C338.7,516.0 347.1,516.4 352.0,515.1 C356.9,513.8 358.4,510.4 363.0,508.9 C367.6,507.4 374.4,507.4 379.6,506.0 C384.8,504.6 389.9,502.4 394.2,500.5 C398.4,498.6 401.7,496.9 405.1,494.7 C408.5,492.4 410.3,488.3 414.6,487.0 C418.9,485.7 426.5,486.9 430.7,486.7 C434.9,486.5 436.0,486.6 440.0,486.0 C444.0,485.4 448.5,485.4 454.6,483.1 C460.7,480.8 469.2,475.1 476.5,472.2 C483.8,469.3 491.1,467.4 498.4,466.0 C505.6,464.6 514.2,464.7 520.0,463.8 C525.8,462.9 527.7,461.1 533.1,460.6 C538.5,460.1 544.4,461.8 552.2,460.6 C560.0,459.4 571.6,454.5 579.7,453.6 C587.8,452.7 593.8,455.0 600.9,455.0 C608.0,455.0 616.5,453.7 622.1,453.6 C627.8,453.5 630.4,452.9 634.8,454.6 C639.2,456.3 642.3,462.5 648.5,464.0 C654.7,465.5 663.3,463.9 671.8,463.6 C680.3,463.4 692.2,463.8 699.3,462.5 C706.4,461.2 708.9,457.4 714.2,456.1 C719.5,454.8 725.5,456.2 731.1,454.7 C736.7,453.2 742.7,447.4 748.0,447.0 C753.3,446.6 755.9,452.0 762.9,452.5 C769.9,453.0 781.0,450.6 790.0,450.2 C799.0,449.8 807.0,451.0 816.8,450.2 C826.6,449.4 840.8,445.1 848.6,445.1 C856.4,445.1 858.5,451.6 863.4,450.4 C868.3,449.2 870.8,440.2 878.2,438.1 C885.6,436.0 899.4,438.1 907.9,437.7 C916.4,437.3 922.9,435.0 929.1,436.0 C935.3,437.0 939.7,443.7 945.3,443.7 C950.9,443.7 957.0,436.6 962.8,435.8 C968.6,435.0 974.8,440.4 980.3,439.1 C985.8,437.9 990.5,431.1 996.0,428.3 C1001.5,425.5 1007.8,424.2 1013.6,422.1 C1019.5,420.1 1025.7,417.9 1031.1,416.0 C1036.5,414.1 1043.5,411.3 1046.0,410.4" stroke="#9d4c95"/>
</g>
<text x="1046" y="259.5" font-size="12" fill="#666" text-anchor="end">2000</text>
<text x="1046" y="331.5" font-size="12" fill="#666" text-anchor="end">1500</text>
<text x="1046" y="402.5" font-size="12" fill="#666" text-anchor="end">1000</text>
<text x="1046" y="474.5" font-size="12" fill="#666" text-anchor="end">500</text>
<text x="1046" y="545.5" font-size="12" fill="#666" text-anchor="end">0</text>
<text x="37.8" y="577.2" font-size="12" fill="#666" textLength="30.2" lengthAdjust="spacingAndGlyphs">2. okt</text>
<text x="129" y="577.2" font-size="12" fill="#666" textLength="31" lengthAdjust="spacingAndGlyphs">8. okt</text>
<text x="225" y="577.2" font-size="12" fill="#666" textLength="37.8" lengthAdjust="spacingAndGlyphs">14. okt</text>
<text x="324.5" y="577.2" font-size="12" fill="#666" textLength="37.8" lengthAdjust="spacingAndGlyphs">20. okt</text>
<text x="424" y="577.2" font-size="12" fill="#666" textLength="37.8" lengthAdjust="spacingAndGlyphs">26. okt</text>
<text x="525.2" y="577.2" font-size="12" fill="#666" textLength="32.8" lengthAdjust="spacingAndGlyphs">1. nov</text>
<text x="624.5" y="577.2" font-size="12" fill="#666" textLength="32.8" lengthAdjust="spacingAndGlyphs">7. nov</text>
<text x="721" y="577.2" font-size="12" fill="#666" textLength="39.5" lengthAdjust="spacingAndGlyphs">13. nov</text>
<text x="819.5" y="577.2" font-size="12" fill="#666" textLength="39.5" lengthAdjust="spacingAndGlyphs">19. nov</text>
<text x="918.3" y="577.2" font-size="12" fill="#666" textLength="40" lengthAdjust="spacingAndGlyphs">25. nov</text>
<text x="1013.3" y="577.2" font-size="12" fill="#666" textLength="32.7" lengthAdjust="spacingAndGlyphs">1. dec</text>
<text x="866.8" y="590" font-size="10" fill="#999" textLength="179.2" lengthAdjust="spacingAndGlyphs">vir podatkov: NIJZ, Ministrstvo za zdravje</text>
<rect x="37.2" y="595.1" width="117.5" height="25.5" rx="3" fill="#3f7446"/>
<text x="45" y="612.4" font-size="13.5" fill="#fff" textLength="101.5" lengthAdjust="spacingAndGlyphs">Osrednjeslovenska</text>
<rect x="160.3" y="595.1" width="70.3" height="25.5" rx="3" fill="#f95f6f"/>
<text x="168" y="612.4" font-size="13.5" fill="#fff" textLength="55.0" lengthAdjust="spacingAndGlyphs">Podravska</text>
<rect x="236.2" y="595.1" width="66.7" height="25.5" rx="3" fill="#6a4f93"/>
<text x="244.5" y="612.4" font-size="13.5" fill="#fff" textLength="50.5" lengthAdjust="spacingAndGlyphs">Savinjska</text>
<rect x="308" y="595.1" width="70.0" height="25.5" rx="3" fill="#ffa600"/>
<text x="316" y="612.4" font-size="13.5" fill="#fff" textLength="54.0" lengthAdjust="spacingAndGlyphs">Gorenjska</text>
<rect x="383" y="595.1" width="70.0" height="25.5" rx="3" fill="#0e4762"/>
<text x="391.5" y="612.4" font-size="13.5" fill="#fff" textLength="53.5" lengthAdjust="spacingAndGlyphs">Pomurska</text>
<rect x="458" y="595.1" width="138.0" height="25.5" rx="3" fill="#b1a63e"/>
<text x="466" y="612.4" font-size="13.5" fill="#fff" textLength="122.0" lengthAdjust="spacingAndGlyphs">Jugovzhodna Slovenija</text>
<rect x="601" y="595.1" width="60.0" height="25.5" rx="3" fill="#71782a"/>
<text x="609.5" y="612.4" font-size="13.5" fill="#fff" textLength="43.5" lengthAdjust="spacingAndGlyphs">Koroška</text>
<rect x="666" y="595.1" width="66.0" height="25.5" rx="3" fill="#de4e89"/>
<text x="674" y="612.4" font-size="13.5" fill="#fff" textLength="50.0" lengthAdjust="spacingAndGlyphs">Posavska</text>
<rect x="737" y="595.1" width="56.0" height="25.5" rx="3" fill="#dfa81f"/>
<text x="745.5" y="612.4" font-size="13.5" fill="#fff" textLength="40.5" lengthAdjust="spacingAndGlyphs">Goriška</text>
<rect x="799" y="595.1" width="96.0" height="25.5" rx="3" fill="#71a46f"/>
<text x="807.5" y="612.4" font-size="13.5" fill="#fff" textLength="79.0" lengthAdjust="spacingAndGlyphs">Obalno-kraška</text>
<rect x="900" y="595.1" width="65.0" height="25.5" rx="3" fill="#16849b"/>
<text x="908" y="612.4" font-size="13.5" fill="#fff" textLength="49.0" lengthAdjust="spacingAndGlyphs">Zasavska</text>
<rect x="37.2" y="631.3" width="131.5" height="25.5" rx="3" fill="#9d4c95"/>
<text x="45" y="648.6" font-size="13.5" fill="#fff" textLength="116.0" lengthAdjust="spacingAndGlyphs">Primorsko-notranjska</text>
</svg>
</body></html>
